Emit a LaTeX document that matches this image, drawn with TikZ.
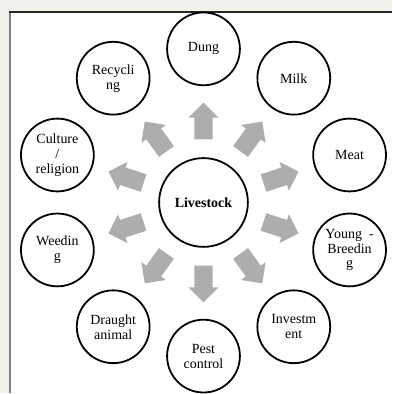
\documentclass[tikz,border=0pt]{standalone}
\usepackage{fontspec}
\setmainfont{Liberation Serif}
\usetikzlibrary{calc,shapes.arrows}
\definecolor{pagebg}{HTML}{F2F2EC}
\definecolor{arrowgray}{HTML}{ADADAD}

\begin{document}
\begin{tikzpicture}[x=1pt,y=1pt]
  \tikzset{hub/.style={circle, draw, line width=1.8pt, minimum size=89pt, inner sep=0pt,
                       font=\fontsize{14}{15}\selectfont\bfseries},
           leaf/.style={circle, draw, line width=1.8pt, minimum size=73pt, inner sep=0pt,
                        align=center, font=\fontsize{14}{15}\selectfont},
           blockarrow/.style={single arrow, fill=arrowgray, draw=none, minimum width=0pt,
                              inner ysep=9pt, inner xsep=0pt, single arrow head extend=6pt,
                              minimum height=37pt, anchor=tail}}
  % page and frame
  \fill[pagebg] (0,0) rectangle (393,394);
  \fill[white] (10,0) rectangle (393,382);
  \draw[gray, line width=2pt] (10,0) -- (10,382);
  \draw[black!85, line width=1.5pt] (9,382) -- (393,382);
  \useasboundingbox (0,0) rectangle (393,394);

  \node[hub] (ls) at (204,191) {Livestock};

  \node[leaf] (dung)    at ($(ls)+(90:154)$)   {Dung};
  \node[leaf] (milk)    at ($(ls)+(54:154)$)   {Milk};
  \node[leaf] (meat)    at ($(ls)+(18:154)$)   {Meat};
  \node[leaf] (young)   at ($(ls)+(-18:154)$)  {Young\ \ -\\Breedin\\g};
  \node[leaf] (invest)  at ($(ls)+(-54:154)$)  {Investm\\ent};
  \node[leaf] (pest)    at ($(ls)+(-90:154)$)  {Pest\\control};
  \node[leaf] (draught) at ($(ls)+(-126:154)$) {Draught\\animal};
  \node[leaf] (weed)    at ($(ls)+(-162:154)$) {Weedin\\g};
  \node[leaf] (culture) at ($(ls)+(162:154)$)  {Culture\\/\\religion};
  \node[leaf] (recycl)  at ($(ls)+(126:154)$)  {Recycli\\ng};

  \foreach \a in {90,54,18,-18,-54,-90,-126,-162,162,126}
    \node[blockarrow, rotate=\a] (arr\a) at ($(ls)+(\a:63)$) {};
\end{tikzpicture}
\end{document}
